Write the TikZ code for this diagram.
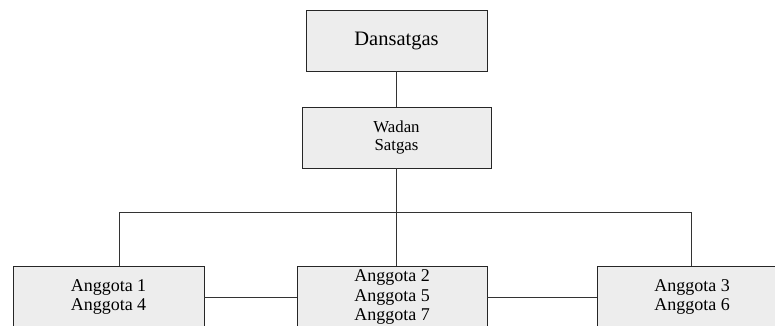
\documentclass[tikz,border=0pt]{standalone}
\usepackage{fontspec}
\setmainfont{Liberation Serif}
\begin{document}
\begin{tikzpicture}[x=1pt,y=-1pt,
  box/.style={draw=black!85, line width=0.9pt, fill=black!7, align=center, inner sep=0pt},
  conn/.style={draw=black!80, line width=0.9pt}]
\useasboundingbox (0,0) rectangle (775,325);
\clip (0,0) rectangle (775,325);
\node[box, minimum width=181pt, minimum height=61pt, font=\fontsize{20.5}{22}\selectfont] (dans) at (396.5,40.5) {Dansatgas};
\node[box, minimum width=189pt, minimum height=61pt, font=\fontsize{16.8}{18.5}\selectfont] (wadan) at (396.5,137.5) {Wadan\\Satgas};
\node[box, minimum width=191pt, minimum height=62pt, font=\fontsize{18}{19.5}\selectfont] (left) at (108.5,297) {Anggota 1\\Anggota 4};
\node[box, minimum width=190pt, minimum height=62pt, font=\fontsize{18}{19.5}\selectfont] (mid) at (392,297) {Anggota 2\\Anggota 5\\Anggota 7};
\node[box, minimum width=190pt, minimum height=62pt, font=\fontsize{18}{19.5}\selectfont] (right) at (692,297) {Anggota 3\\Anggota 6};
\coordinate (barL) at (119,212);
\coordinate (barM) at (396.5,212);
\coordinate (barR) at (691,212);
\draw[conn] (dans.south) -- (wadan.north);
\draw[conn] (wadan.south) -- (barM);
\draw[conn] (barL) -- (barR);
\draw[conn] (barL) -- (barL |- left.north);
\draw[conn] (barM) -- (barM |- mid.north);
\draw[conn] (barR) -- (barR |- right.north);
\draw[conn] (left.east) -- (mid.west);
\draw[conn] (mid.east) -- (right.west);
\end{tikzpicture}
\end{document}
